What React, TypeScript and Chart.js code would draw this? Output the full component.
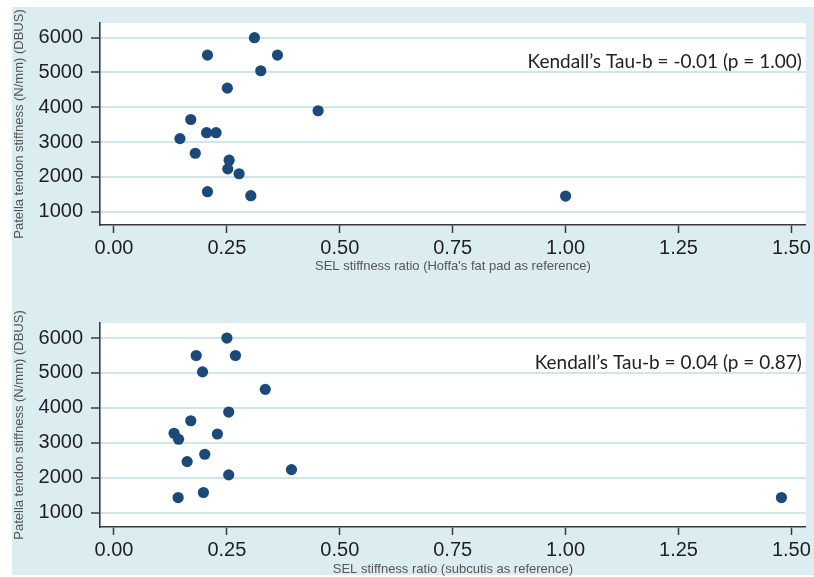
import React, { useEffect, useRef } from "react";
import { Chart, registerables } from "chart.js";

Chart.register(...registerables);

// ---- data ----
const xTickValues = [0, 0.25, 0.5, 0.75, 1.0, 1.25, 1.5];
const yTickValues = [1000, 2000, 3000, 4000, 5000, 6000];

const hoffaRatio = [0.311, 0.207, 0.362, 0.325, 0.251, 0.452, 0.17, 0.205, 0.226, 0.146, 0.18, 0.255, 0.252, 0.277, 0.207, 0.303, 1.0];
const hoffaStiffness = [6000, 5500, 5500, 5050, 4550, 3900, 3650, 3270, 3270, 3100, 2680, 2480, 2230, 2090, 1575, 1460, 1450];

const subcutisRatio = [0.25, 0.182, 0.269, 0.196, 0.335, 0.254, 0.17, 0.229, 0.133, 0.143, 0.201, 0.162, 0.254, 0.393, 0.198, 0.142, 1.478];
const subcutisStiffness = [6000, 5500, 5500, 5030, 4530, 3880, 3630, 3250, 3270, 3100, 2670, 2460, 2080, 2230, 1575, 1430, 1430];

const yAxisTitle = "Patella tendon stiffness (N/mm) (DBUS)";
const topXTitle = "SEL stiffness ratio (Hoffa's fat pad as reference)";
const bottomXTitle = "SEL stiffness ratio (subcutis as reference)";
const topNote = "Kendall\u2019s Tau-b = -0.01 (p = 1.00)";
const bottomNote = "Kendall\u2019s Tau-b = 0.04 (p = 0.87)";
const noteValue = 5300;

// ---- styles ----
const PANEL = "#dcedf2";
const GRID = "#d0e5ec";
const POINT = "#1b4a7a";
const AXIS = "#3a3a3a";
const TICK_TEXT = "#1f1f1f";
const TITLE_TEXT = "#555555";

type Geo = {
  height: number;
  padTop: number;
  xAxisHeight: number;
  yMin: number;
  yMax: number;
  xTitlePad: number;
};

function makeChart(
  canvas: HTMLCanvasElement,
  xs: number[],
  ys: number[],
  xTitle: string,
  note: string,
  geo: Geo
) {
  const plotBg = {
    id: "plotBg",
    beforeDraw(chart: any) {
      const { ctx, chartArea } = chart;
      ctx.save();
      ctx.fillStyle = "#ffffff";
      ctx.fillRect(chartArea.left, chartArea.top, chartArea.right - chartArea.left, chartArea.bottom - chartArea.top);
      ctx.restore();
    },
  };
  const notePlugin = {
    id: "note",
    afterDatasetsDraw(chart: any) {
      const { ctx, chartArea, scales } = chart;
      ctx.save();
      ctx.font = "19px Lato";
      ctx.fillStyle = "#222222";
      ctx.textAlign = "right";
      ctx.textBaseline = "middle";
      ctx.fillText(note, chartArea.right - 4, scales.y.getPixelForValue(noteValue));
      ctx.restore();
    },
  };
  return new Chart(canvas, {
    type: "scatter",
    data: {
      datasets: [
        {
          data: xs.map((x, i) => ({ x, y: ys[i] })),
          backgroundColor: POINT,
          borderWidth: 0,
          pointRadius: 5.6,
          pointHoverRadius: 5.6,
        },
      ],
    },
    options: {
      animation: false,
      responsive: false,
      maintainAspectRatio: false,
      events: [],
      layout: { padding: { left: 0, right: 8, top: geo.padTop, bottom: 0 } },
      plugins: { legend: { display: false }, tooltip: { enabled: false } },
      scales: {
        x: {
          type: "linear",
          min: -0.031,
          max: 1.532,
          afterBuildTicks: (axis: any) => {
            axis.ticks = xTickValues.map((v) => ({ value: v }));
          },
          afterFit: (axis: any) => {
            axis.height = geo.xAxisHeight;
          },
          grid: {
            drawOnChartArea: false,
            drawTicks: true,
            tickLength: 8,
            tickColor: AXIS,
            tickWidth: 1.5,
          },
          border: { display: true, color: AXIS, width: 1.6 },
          ticks: {
            padding: 3,
            color: TICK_TEXT,
            font: { family: "Liberation Sans", size: 20 },
            maxRotation: 0,
            callback: (v: any) => Number(v).toFixed(2),
          },
          title: {
            display: true,
            text: xTitle,
            color: TITLE_TEXT,
            font: { family: "Liberation Sans", size: 13 },
            padding: { top: 0, bottom: geo.xTitlePad },
          },
        },
        y: {
          type: "linear",
          min: geo.yMin,
          max: geo.yMax,
          afterBuildTicks: (axis: any) => {
            axis.ticks = yTickValues.map((v) => ({ value: v }));
          },
          afterFit: (axis: any) => {
            axis.width = 100;
          },
          grid: {
            color: GRID,
            lineWidth: 2,
            drawTicks: true,
            tickLength: 9,
            tickColor: AXIS,
            tickWidth: 1.5,
          },
          border: { display: true, color: AXIS, width: 1.6 },
          ticks: {
            padding: 8,
            color: TICK_TEXT,
            font: { family: "Liberation Sans", size: 20 },
            callback: (v: any) => String(v),
          },
          title: {
            display: true,
            text: yAxisTitle,
            color: TITLE_TEXT,
            font: { family: "Liberation Sans", size: 13 },
            padding: { top: 12, bottom: 0 },
          },
        },
      },
    },
    plugins: [plotBg, notePlugin],
  } as any);
}

export default function App() {
  const topRef = useRef<HTMLCanvasElement>(null);
  const bottomRef = useRef<HTMLCanvasElement>(null);

  useEffect(() => {
    const top = makeChart(topRef.current!, hoffaRatio, hoffaStiffness, topXTitle, topNote, {
      height: 290,
      padTop: 23,
      xAxisHeight: 65,
      yMin: 618,
      yMax: 6422,
      xTitlePad: 16,
    });
    const bottom = makeChart(bottomRef.current!, subcutisRatio, subcutisStiffness, bottomXTitle, bottomNote, {
      height: 287,
      padTop: 33,
      xAxisHeight: 50,
      yMin: 586,
      yMax: 6431,
      xTitlePad: 0,
    });
    return () => {
      top.destroy();
      bottom.destroy();
    };
  }, []);

  return (
    <div style={{ position: "fixed", left: 0, top: 0, width: 814, height: 577, background: "#ffffff", overflow: "hidden" }}>
      <div style={{ position: "absolute", left: 12, top: 7, width: 802, height: 568, background: PANEL }} />
      <canvas ref={topRef} width={814} height={290} style={{ position: "absolute", left: 0, top: 0, width: 814, height: 290 }} />
      <canvas ref={bottomRef} width={814} height={287} style={{ position: "absolute", left: 0, top: 290, width: 814, height: 287 }} />
    </div>
  );
}
